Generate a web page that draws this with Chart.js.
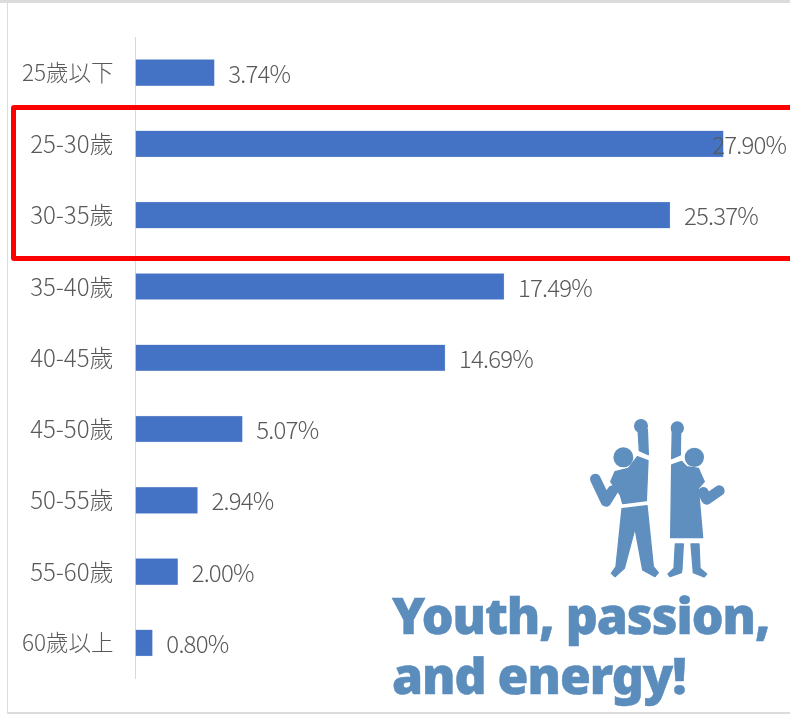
<!DOCTYPE html>
<html><head><meta charset="utf-8">
<script src="https://cdn.jsdelivr.net/npm/chart.js@4"></script>
<style>
html,body{margin:0;padding:0;background:#fff;width:790px;height:714px;overflow:hidden}
.abs{position:absolute}
.slogan{left:392px;color:#5a8cbc;font:900 50px "Noto Sans";white-space:nowrap;line-height:60px;letter-spacing:-1.05px;-webkit-text-stroke:0.5px #5a8cbc}
</style></head><body>
<div class="abs" style="left:0;top:0;width:790px;height:3px;background:#dcdcdc"></div>
<div class="abs" style="left:7px;top:3px;width:1px;height:710px;background:#dcdcdc"></div>
<div class="abs" style="left:7px;top:712px;width:783px;height:2px;background:#dcdcdc"></div>
<canvas id="c" width="790" height="714" class="abs" style="left:0;top:0"></canvas>
<div class="abs" style="left:11px;top:105px;width:800px;height:156px;box-sizing:border-box;border:5px solid #fe0000;border-radius:3px"></div>
<svg class="abs" style="left:570px;top:400px" width="220" height="200" viewBox="0 0 660 600">
<g fill="#5f8fbe" stroke="#5f8fbe" stroke-width="4" stroke-linejoin="round">
<circle cx="160" cy="172" r="28"/><circle cx="213" cy="78" r="19"/>
<path d="M204 85L232 88L235 164L208 152Z"/>
<path d="M202 170L234 182L229 302L158 311L151 285L122 245L135 215L175 205Z"/>
<path d="M76 237L108 304L128 272" fill="none" stroke-width="32" stroke-linecap="round"/>
<path d="M156 326L231 317L250 500L265 518L255 530L218 510L195 385L163 505L135 530L124 520L138 500Z"/>
<circle cx="373" cy="172" r="27"/><circle cx="322" cy="84" r="18"/>
<path d="M307 85L332 90L331 165L305 176Z"/>
<path d="M305 195L335 184L350 200L385 205L403 245L385 265L398 413L302 413Z"/>
<path d="M448 272L410 298L400 277" fill="none" stroke-width="32" stroke-linecap="round"/>
<path d="M316 432L340 432L336 505L334 518L300 530L294 522L312 505Z"/>
<path d="M363 432L387 432L390 505L410 522L402 531L370 518Z"/>
</g></svg>
<div class="slogan abs" style="top:585px">Youth, passion,</div>
<div class="slogan abs" style="top:645px">and energy!</div>
<script>
const categories = ["25歲以下","25-30歲","30-35歲","35-40歲","40-45歲","45-50歲","50-55歲","55-60歲","60歲以上"];
const shareValues = [3.74,27.90,25.37,17.49,14.69,5.07,2.94,2.00,0.80];
const axisMax = 30;
const dataLabels = {
  id:'dataLabels',
  afterDatasetsDraw(chart){
    const {ctx,scales:{x,y}}=chart;
    ctx.save();
    ctx.font='300 24px "Noto Sans CJK TC"';ctx.textBaseline='middle';ctx.textAlign='left';ctx.fillStyle='#595959';
    ctx.letterSpacing='-0.8px';
    shareValues.forEach((v,i)=>{
      ctx.fillText(v.toFixed(2)+'%', x.getPixelForValue(v)+(v>27?-11:14), y.getPixelForValue(i)+1);
    });
    ctx.restore();
  }
};
new Chart(document.getElementById('c'),{
  type:'bar',
  data:{labels:categories,datasets:[{data:shareValues,backgroundColor:'#4472c4',borderColor:'#8faadc',borderWidth:0.5,barThickness:26}]},
  plugins:[dataLabels],
  options:{
    indexAxis:'y',responsive:false,animation:false,
    layout:{padding:{top:37,bottom:35,left:0,right:22.5}},
    plugins:{legend:{display:false},tooltip:{enabled:false},title:{display:false}},
    scales:{
      x:{display:false,min:0,max:axisMax},
      y:{
        afterFit(s){s.width=135.5;},
        grid:{display:false,drawTicks:false},
        border:{display:true,color:'#d9d9d9',width:1},
        ticks:{color:'#595959',font:c=>({family:'"Noto Sans CJK TC"',size:/[上下]$/.test(categories[c.index])?22.5:24,weight:'300'}),padding:22,autoSkip:false}
      }
    }
  }
});
</script>
</body></html>
